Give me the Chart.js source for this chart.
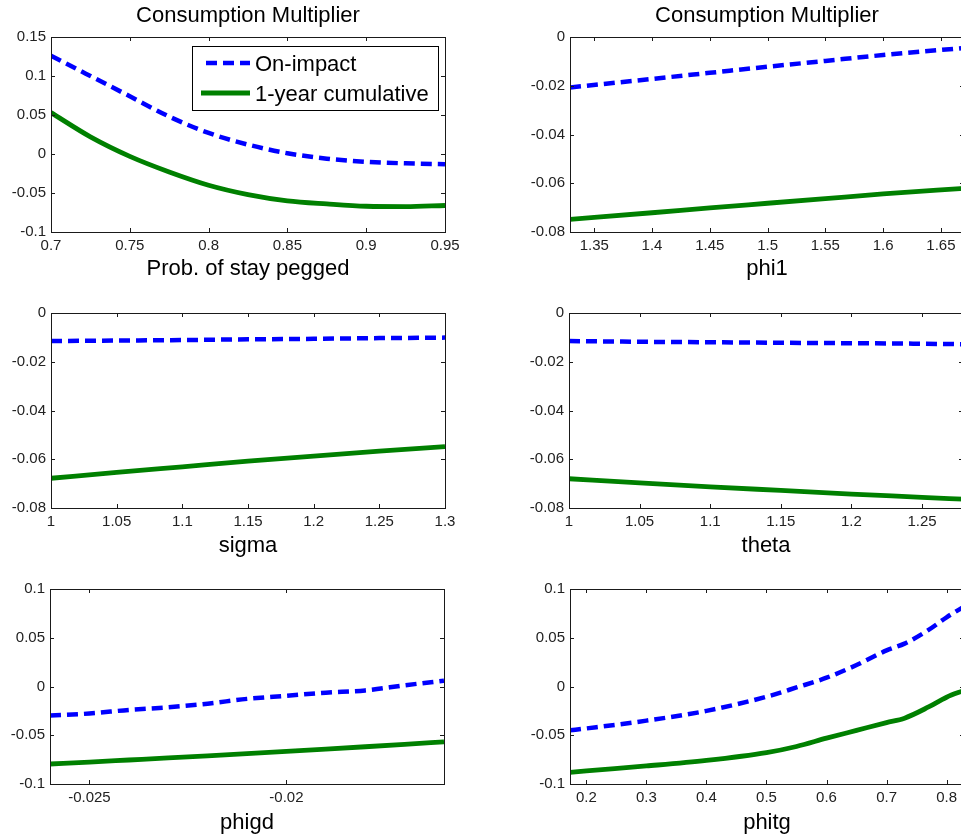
<!DOCTYPE html>
<html>
<head>
<meta charset="utf-8">
<script src="https://cdn.jsdelivr.net/npm/chart.js@4.4.0/dist/chart.umd.min.js"></script>
<style>
  html, body { margin: 0; padding: 0; background: #fff; overflow: hidden; }
  #page { position: relative; width: 961px; height: 838px; overflow: hidden; }
  canvas { position: absolute; }
</style>
</head>
<body>
<div id="page">
  <canvas id="c1" width="480" height="290" style="left:0;top:0"></canvas>
  <canvas id="c2" width="490" height="290" style="left:480px;top:0"></canvas>
  <canvas id="c3" width="480" height="270" style="left:0;top:290px"></canvas>
  <canvas id="c4" width="490" height="270" style="left:480px;top:290px"></canvas>
  <canvas id="c5" width="480" height="278" style="left:0;top:560px"></canvas>
  <canvas id="c6" width="490" height="278" style="left:480px;top:560px"></canvas>
</div>
<script>
// series names
const seriesNames = ["On-impact", "1-year cumulative"];
const titleText = "Consumption Multiplier";

// prob. of stay pegged
const probX = [0.7, 0.725, 0.75, 0.775, 0.8, 0.825, 0.85, 0.875, 0.9, 0.925, 0.95];
const probOnImpact = [0.126, 0.100, 0.074, 0.048, 0.027, 0.012, 0.001, -0.006, -0.010, -0.012, -0.013];
const probCumulative = [0.053, 0.022, -0.003, -0.023, -0.040, -0.052, -0.060, -0.064, -0.067, -0.0675, -0.066];
const probXTicks = [0.7, 0.75, 0.8, 0.85, 0.9, 0.95];
const probYTicks = [-0.1, -0.05, 0, 0.05, 0.1, 0.15];

// phi1
const phi1X = [1.329, 1.4, 1.45, 1.5, 1.55, 1.6, 1.67];
const phi1OnImpact = [-0.0207, -0.0172, -0.0147, -0.0122, -0.0098, -0.0074, -0.0045];
const phi1Cumulative = [-0.0748, -0.0721, -0.0701, -0.0682, -0.0663, -0.0644, -0.0621];
const phi1XTicks = [1.35, 1.4, 1.45, 1.5, 1.55, 1.6, 1.65];

// sigma
const sigmaX = [1, 1.05, 1.1, 1.15, 1.2, 1.25, 1.3];
const sigmaOnImpact = [-0.0115, -0.0113, -0.0111, -0.0108, -0.0106, -0.0103, -0.0101];
const sigmaCumulative = [-0.0678, -0.0654, -0.0631, -0.0608, -0.0587, -0.0567, -0.0548];
const sigmaXTicks = [1, 1.05, 1.1, 1.15, 1.2, 1.25, 1.3];

// theta
const thetaX = [1, 1.05, 1.1, 1.15, 1.2, 1.25, 1.279];
const thetaOnImpact = [-0.0115, -0.0118, -0.0120, -0.0122, -0.0124, -0.0126, -0.0128];
const thetaCumulative = [-0.0680, -0.0697, -0.0713, -0.0728, -0.0743, -0.0756, -0.0764];
const thetaXTicks = [1, 1.05, 1.1, 1.15, 1.2, 1.25];

const negYTicks = [-0.08, -0.06, -0.04, -0.02, 0];

// phigd
const phigdX = [-0.026, -0.025, -0.024, -0.023, -0.022, -0.021, -0.020, -0.019, -0.018, -0.017, -0.016];
const phigdOnImpact = [-0.0298, -0.0277, -0.0240, -0.0213, -0.0176, -0.0127, -0.0095, -0.0063, -0.0040, 0.0012, 0.0060];
const phigdCumulative = [-0.0795, -0.0775, -0.0754, -0.0733, -0.0711, -0.0688, -0.0665, -0.0642, -0.0618, -0.0593, -0.0567];
const phigdXTicks = [-0.025, -0.02];

// phitg
const phitgX = [0.1727, 0.2, 0.3, 0.4, 0.5, 0.55, 0.6, 0.65, 0.7, 0.73, 0.77, 0.8, 0.829];
const phitgOnImpact = [-0.045, -0.043, -0.035, -0.025, -0.0105, -0.001, 0.009, 0.022, 0.037, 0.044, 0.058, 0.071, 0.082];
const phitgCumulative = [-0.088, -0.0865, -0.0815, -0.0758, -0.0678, -0.0615, -0.053, -0.045, -0.037, -0.0325, -0.021, -0.011, -0.004];
const phitgXTicks = [0.2, 0.3, 0.4, 0.5, 0.6, 0.7, 0.8];

const symYTicks = [-0.1, -0.05, 0, 0.05, 0.1];

const FONT = "'Liberation Sans', Arial, Helvetica, sans-serif";
Chart.defaults.font.family = FONT;

const fmt = (v) => {
  if (Math.abs(v) < 1e-12) return "0";
  return String(+(+v).toFixed(4));
};

// matlab style box with inward ticks, plus the legend on the first panel
const axesBox = {
  id: "axesBox",
  afterDraw(chart, args, opts) {
    const { ctx, chartArea: a, scales: { x, y } } = chart;
    ctx.save();
    ctx.strokeStyle = "#1a1a1a";
    ctx.lineWidth = 1;
    ctx.setLineDash([]);
    ctx.beginPath();
    x.ticks.forEach((t) => {
      const px = Math.round(x.getPixelForValue(t.value)) + 0.5;
      ctx.moveTo(px, a.bottom); ctx.lineTo(px, a.bottom - 4);
      ctx.moveTo(px, a.top); ctx.lineTo(px, a.top + 4);
    });
    y.ticks.forEach((t) => {
      const py = Math.round(y.getPixelForValue(t.value)) + 0.5;
      ctx.moveTo(a.left, py); ctx.lineTo(a.left + 4, py);
      ctx.moveTo(a.right, py); ctx.lineTo(a.right - 4, py);
    });
    ctx.stroke();
    ctx.strokeRect(Math.round(a.left) + 0.5, Math.round(a.top) + 0.5,
      Math.round(a.right - a.left), Math.round(a.bottom - a.top));

    if (opts.legend) {
      const left = Math.round(a.right) - 253, top = Math.round(a.top) + 9;
      ctx.fillStyle = "#fff";
      ctx.fillRect(left, top, 246, 64);
      ctx.strokeStyle = "#000";
      ctx.strokeRect(left + 0.5, top + 0.5, 246, 64);
      chart.data.datasets.forEach((ds, i) => {
        const cy = top + 17 + i * 30;
        ctx.beginPath();
        ctx.setLineDash(ds.borderDash || []);
        ctx.strokeStyle = ds.borderColor;
        ctx.lineWidth = ds.borderWidth;
        ctx.moveTo(left + (ds.borderDash ? 14 : 9), cy);
        ctx.lineTo(left + 58, cy);
        ctx.stroke();
        ctx.setLineDash([]);
        ctx.fillStyle = "#000";
        ctx.font = "22px " + FONT;
        ctx.textBaseline = "middle";
        ctx.textAlign = "left";
        ctx.fillText(ds.label, left + 63, cy + 1.5);
      });
    }
    ctx.restore();
  }
};

function makePanel(id, p) {
  const pts = (ys) => p.x.map((v, i) => ({ x: v, y: ys[i] }));
  return new Chart(document.getElementById(id), {
    type: "line",
    data: {
      datasets: [
        {
          label: seriesNames[0],
          data: pts(p.onImpact),
          borderColor: "#0000ff",
          borderWidth: 4.5,
          borderDash: [11, 6],
          borderCapStyle: "butt",
          pointRadius: 0,
          fill: false,
          cubicInterpolationMode: "monotone",
        },
        {
          label: seriesNames[1],
          data: pts(p.cumulative),
          borderColor: "#008000",
          borderWidth: 4.8,
          pointRadius: 0,
          fill: false,
          cubicInterpolationMode: "monotone",
        },
      ],
    },
    options: {
      responsive: false,
      animation: false,
      events: [],
      layout: { padding: { top: p.padTop, right: p.padRight, left: 0, bottom: 0 } },
      plugins: {
        legend: { display: false },
        tooltip: { enabled: false },
        title: {
          display: !!p.title,
          text: p.title || "",
          fullSize: false,
          color: "#000",
          font: { size: 22, weight: "normal" },
          padding: { top: 2.7, bottom: 7.9 },
        },
        axesBox: { legend: !!p.legend },
      },
      scales: {
        x: {
          type: "linear",
          min: p.xMin,
          max: p.xMax,
          grid: { display: false, drawTicks: false },
          border: { display: false },
          afterBuildTicks: (s) => { s.ticks = p.xTicks.map((v) => ({ value: v })); },
          afterFit: (s) => { s.height = p.axisHeight; },
          ticks: { color: "#222", font: { size: 15 }, padding: 5, maxRotation: 0, autoSkip: false, callback: fmt },
          title: {
            display: true,
            text: p.xLabel,
            color: "#000",
            font: { size: 22 },
            padding: { top: 0, bottom: p.labelPad },
          },
        },
        y: {
          type: "linear",
          min: p.yMin,
          max: p.yMax,
          grid: { display: false, drawTicks: false },
          border: { display: false },
          afterBuildTicks: (s) => { s.ticks = p.yTicks.map((v) => ({ value: v })); },
          afterFit: (s) => { s.width = p.axisLeft; },
          ticks: { color: "#222", font: { size: 15 }, padding: 5, autoSkip: false, callback: fmt },
        },
      },
    },
    plugins: [axesBox],
  });
}

makePanel("c1", {
  x: probX, onImpact: probOnImpact, cumulative: probCumulative,
  xMin: 0.7, xMax: 0.95, xTicks: probXTicks, yMin: -0.1, yMax: 0.15, yTicks: probYTicks,
  xLabel: "Prob. of stay pegged", title: titleText, legend: true,
  axisLeft: 51, axisHeight: 58, padTop: 0, padRight: 35, labelPad: 7.4,
});
makePanel("c2", {
  x: phi1X, onImpact: phi1OnImpact, cumulative: phi1Cumulative,
  xMin: 1.329, xMax: 1.67, xTicks: phi1XTicks, yMin: -0.08, yMax: 0, yTicks: negYTicks,
  xLabel: "phi1", title: titleText,
  axisLeft: 90, axisHeight: 58, padTop: 0, padRight: 6, labelPad: 7.4,
});
makePanel("c3", {
  x: sigmaX, onImpact: sigmaOnImpact, cumulative: sigmaCumulative,
  xMin: 1, xMax: 1.3, xTicks: sigmaXTicks, yMin: -0.08, yMax: 0, yTicks: negYTicks,
  xLabel: "sigma",
  axisLeft: 51, axisHeight: 52, padTop: 23, padRight: 35, labelPad: 0.5,
});
makePanel("c4", {
  x: thetaX, onImpact: thetaOnImpact, cumulative: thetaCumulative,
  xMin: 1, xMax: 1.279, xTicks: thetaXTicks, yMin: -0.08, yMax: 0, yTicks: negYTicks,
  xLabel: "theta",
  axisLeft: 89, axisHeight: 52, padTop: 23, padRight: 7, labelPad: 0.5,
});
makePanel("c5", {
  x: phigdX, onImpact: phigdOnImpact, cumulative: phigdCumulative,
  xMin: -0.026, xMax: -0.016, xTicks: phigdXTicks, yMin: -0.1, yMax: 0.1, yTicks: symYTicks,
  xLabel: "phigd",
  axisLeft: 50, axisHeight: 54, padTop: 29, padRight: 36, labelPad: 1.6,
});
makePanel("c6", {
  x: phitgX, onImpact: phitgOnImpact, cumulative: phitgCumulative,
  xMin: 0.1727, xMax: 0.829, xTicks: phitgXTicks, yMin: -0.1, yMax: 0.1, yTicks: symYTicks,
  xLabel: "phitg",
  axisLeft: 90, axisHeight: 54, padTop: 29, padRight: 6, labelPad: 1.6,
});
</script>
</body>
</html>
